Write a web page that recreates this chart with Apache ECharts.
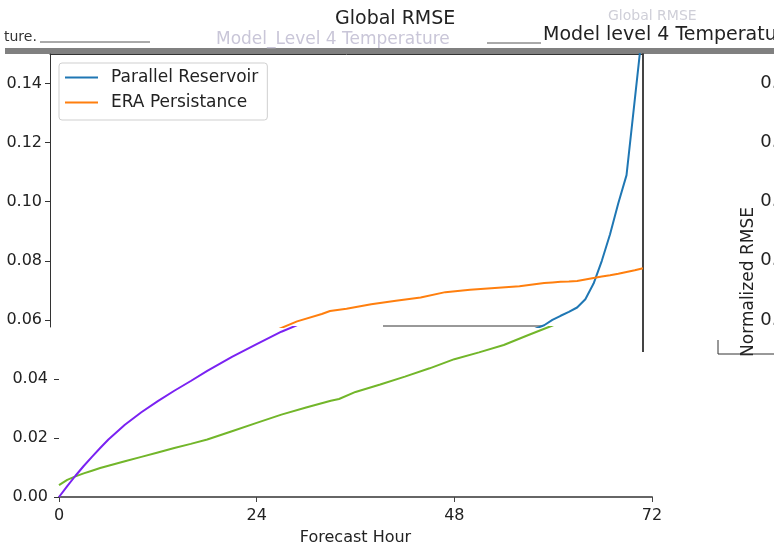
<!DOCTYPE html>
<html>
<head>
<meta charset="utf-8">
<script src="https://cdn.jsdelivr.net/npm/echarts@6/dist/echarts.min.js"></script>
<style>
  html, body { margin: 0; padding: 0; background: #fff; }
  #chart { width: 774px; height: 547px; }
</style>
</head>
<body>
<div id="chart"></div>
<script>
// forecast hours and RMSE values
const hours = [0, 1, 2, 3, 4, 5, 6, 8, 10, 12, 14, 16, 18, 21, 24, 27, 30, 33, 34, 36, 39, 42, 45, 48, 51, 54, 57,
  60, 61, 62, 63, 64, 65, 66, 67, 68, 69, 70, 71, 72];
const reservoir = [0.0040, 0.0058, 0.0070, 0.0080, 0.0089, 0.0098, 0.0106, 0.0121, 0.0136, 0.0151, 0.0166,
  0.0180, 0.0195, 0.0223, 0.0251, 0.0279, 0.0303, 0.0326, 0.0332, 0.0356, 0.0381, 0.0408, 0.0436, 0.0467,
  0.0490, 0.0515, 0.0549, 0.0582, 0.0600, 0.0614, 0.0627, 0.0642, 0.0670, 0.0723, 0.0800, 0.0890, 0.0995,
  0.1090, 0.1345, 0.1600];
const persistence = [0, 0.0037, 0.0072, 0.0105, 0.0136, 0.0166, 0.0195, 0.0245, 0.0287, 0.0325, 0.0360,
  0.0393, 0.0427, 0.0475, 0.0518, 0.0560, 0.0595, 0.0620, 0.0630, 0.0638, 0.0653, 0.0665, 0.0676, 0.0694,
  0.0702, 0.0708, 0.0714, 0.0725, 0.0727, 0.0729, 0.0730, 0.0732, 0.0737, 0.0742, 0.0747, 0.0751, 0.0756,
  0.0762, 0.0768, 0.0775];
const xTicks = [0, 24, 48, 72];
const upperTicks = [0.06, 0.08, 0.10, 0.12, 0.14];
const lowerTicks = [0.00, 0.02, 0.04];

const font = "DejaVu Sans";
const split = 0.0576; // where the picture's two bands meet

const chart = echarts.init(document.getElementById("chart"));

const pairs = (vals) => hours.map((h, i) => [h, vals[i]]);
const fmt = (v) => v.toFixed(2);

const options = {
  animation: false,
  title: {
    text: "Global RMSE",
    left: 330,
    top: 5,
    textStyle: { fontFamily: font, fontSize: 19, fontWeight: "normal", color: "#222" },
  },
  legend: {
    orient: "vertical",
    left: 59,
    top: 63,
    padding: [5, 9, 8, 6],
    itemGap: 6,
    itemWidth: 33,
    itemHeight: 2,
    icon: "rect",
    borderColor: "#cfcfcf",
    borderWidth: 1,
    borderRadius: 3,
    backgroundColor: "#fff",
    textStyle: { fontFamily: font, fontSize: 17, color: "#222", lineHeight: 19, padding: [0, 0, 0, 8] },
    data: [
      { name: "Parallel Reservoir", itemStyle: { color: "#1f77b4" } },
      { name: "ERA Persistance", itemStyle: { color: "#ff7f0e" } },
    ],
  },
  grid: [
    { left: 50, right: 131, top: 54, height: 273 },
    { left: 59, right: 122, top: 327, height: 170 },
    { left: 751, width: 5, top: 54, height: 273 },
  ],
  xAxis: [
    {
      gridIndex: 0, type: "value", min: 0, max: 72, position: "top",
      axisLine: { show: true, lineStyle: { color: "#333", width: 1 } },
      axisTick: { show: false }, axisLabel: { show: false }, splitLine: { show: false },
    },
    {
      gridIndex: 1, type: "value", min: 0, max: 72, interval: 24,
      axisLine: { show: true, onZero: false, lineStyle: { color: "#666", width: 2 } },
      axisTick: { show: true, length: 5, lineStyle: { color: "#444" }, customValues: xTicks },
      axisLabel: { margin: 11, fontFamily: font, fontSize: 16, color: "#222", customValues: xTicks },
      splitLine: { show: false },
      name: "Forecast Hour", nameLocation: "middle", nameGap: 33,
      nameTextStyle: { fontFamily: font, fontSize: 16, color: "#222" },
    },
    { gridIndex: 2, type: "value", min: 0, max: 72, show: false },
  ],
  yAxis: [
    {
      gridIndex: 0, type: "value", min: split, max: 0.15,
      axisLine: { show: true, lineStyle: { color: "#333", width: 1 } },
      axisTick: { show: true, length: 5, lineStyle: { color: "#333" }, customValues: upperTicks },
      axisLabel: { margin: 8, fontFamily: font, fontSize: 16, color: "#222", formatter: fmt, customValues: upperTicks },
      splitLine: { show: false },
    },
    {
      gridIndex: 0, type: "value", min: split, max: 0.15, position: "right",
      axisLine: { show: true, lineStyle: { color: "#444", width: 2 } },
      axisTick: { show: false }, axisLabel: { show: false }, splitLine: { show: false },
    },
    {
      gridIndex: 1, type: "value", min: 0, max: split,
      axisLine: { show: false },
      axisTick: { show: true, length: 5, lineStyle: { color: "#333" }, customValues: lowerTicks },
      axisLabel: { margin: 11, fontFamily: font, fontSize: 16, color: "#222", formatter: fmt, customValues: lowerTicks },
      splitLine: { show: false },
    },
    {
      gridIndex: 2, type: "value", min: split, max: 0.15, position: "right",
      axisLine: { show: false }, axisTick: { show: false }, splitLine: { show: false },
      axisLabel: { margin: 8, fontFamily: font, fontSize: 18, color: "#222", formatter: fmt, customValues: upperTicks },
    },
  ],
  series: [
    {
      name: "Parallel Reservoir", type: "line", xAxisIndex: 0, yAxisIndex: 0,
      data: pairs(reservoir), showSymbol: false, color: "#1f77b4",
      lineStyle: { width: 2, color: "#1f77b4" },
    },
    {
      name: "ERA Persistance", type: "line", xAxisIndex: 0, yAxisIndex: 0,
      data: pairs(persistence), showSymbol: false, color: "#ff7f0e",
      lineStyle: { width: 2, color: "#ff7f0e" },
    },
    {
      name: "Parallel Reservoir", type: "line", xAxisIndex: 1, yAxisIndex: 2,
      data: pairs(reservoir), showSymbol: false, color: "#72b62a",
      lineStyle: { width: 2, color: "#72b62a" },
    },
    {
      name: "ERA Persistance", type: "line", xAxisIndex: 1, yAxisIndex: 2,
      data: pairs(persistence), showSymbol: false, color: "#7a22f2",
      lineStyle: { width: 2, color: "#7a22f2" },
    },
  ],
  graphic: [
    // grey band and broken header fragments
    { type: "rect", shape: { x: 5, y: 48, width: 769, height: 6 }, style: { fill: "#808080" }, silent: true },
    { type: "text", left: 4, top: 30, style: { text: "ture.", fontFamily: font, fontSize: 14, fill: "#333" } },
    { type: "line", shape: { x1: 40, y1: 42, x2: 150, y2: 42 }, style: { stroke: "#555", lineWidth: 1 } },
    { type: "text", left: 216, top: 31, style: { text: "Model_Level 4 Temperature", fontFamily: font, fontSize: 17, fill: "#c9c6d8" } },
    { type: "line", shape: { x1: 487, y1: 43, x2: 541, y2: 43 }, style: { stroke: "#555", lineWidth: 1 } },
    { type: "text", left: 543, top: 26, style: { text: "Model level 4 Temperature", fontFamily: font, fontSize: 19, fill: "#222" } },
    { type: "text", left: 608, top: 9, style: { text: "Global RMSE", fontFamily: font, fontSize: 14, fill: "#cfcfd8" } },
    { type: "line", shape: { x1: 383, y1: 326, x2: 543, y2: 326 }, style: { stroke: "#333", lineWidth: 1 } },
    { type: "line", shape: { x1: 643, y1: 327, x2: 643, y2: 352 }, style: { stroke: "#444", lineWidth: 2 } },
    {
      type: "text", x: 749, y: 282, rotation: Math.PI / 2,
      style: { text: "Normalized RMSE", fontFamily: font, fontSize: 17, fill: "#222", align: "center", verticalAlign: "middle" },
    },
    { type: "polyline", shape: { points: [[718, 340], [718, 354], [774, 354]] }, style: { stroke: "#333", lineWidth: 1, fill: null } },
  ],
};

chart.setOption(options);
</script>
</body>
</html>
